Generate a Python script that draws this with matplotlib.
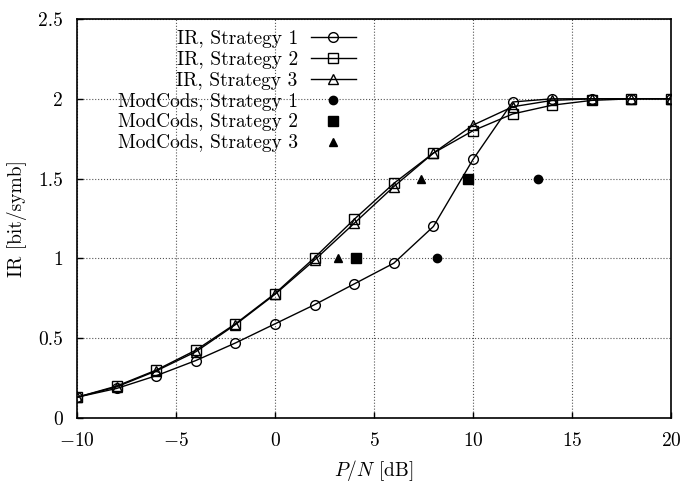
import matplotlib
matplotlib.use('Agg')
import matplotlib.pyplot as plt
from matplotlib.ticker import FuncFormatter

plt.rcParams['font.family'] = 'serif'
plt.rcParams['font.serif'] = ['cmr10']
plt.rcParams['mathtext.fontset'] = 'cm'
plt.rcParams['axes.formatter.use_mathtext'] = True
plt.rcParams['font.size'] = 14

# IR curves
snr = [-10, -8, -6, -4, -2, 0, 2, 4, 6, 8, 10, 12, 14, 16, 18, 20]
ir_s1 = [0.13, 0.185, 0.265, 0.36, 0.47, 0.59, 0.71, 0.84, 0.97, 1.20, 1.62, 1.98, 2.0, 2.0, 2.0, 2.0]
ir_s2 = [0.13, 0.20, 0.30, 0.425, 0.59, 0.78, 1.005, 1.245, 1.47, 1.66, 1.80, 1.905, 1.96, 1.99, 2.0, 2.0]
ir_s3 = [0.13, 0.195, 0.295, 0.415, 0.585, 0.775, 0.99, 1.22, 1.45, 1.66, 1.835, 1.95, 1.99, 2.0, 2.0, 2.0]

# ModCod points
mc1_x = [8.2, 13.3]
mc1_y = [1.0, 1.5]
mc2_x = [4.1, 9.75]
mc2_y = [1.0, 1.5]
mc3_x = [3.2, 7.35]
mc3_y = [1.0, 1.5]

fig = plt.figure(figsize=(6.92, 4.82), dpi=100)
ax = fig.add_axes([0.1113, 0.1328, 0.8584, 0.8278])

ax.plot(snr, ir_s1, color='black', lw=1.0, marker='o', ms=7, mfc='none', mec='black', mew=1.0,
        label='IR, Strategy 1')
ax.plot(snr, ir_s2, color='black', lw=1.0, marker='s', ms=7.5, mfc='none', mec='black', mew=1.0,
        label='IR, Strategy 2')
ax.plot(snr, ir_s3, color='black', lw=1.0, marker='^', ms=7, mfc='none', mec='black', mew=1.0,
        label='IR, Strategy 3')
ax.plot(mc1_x, mc1_y, ls='none', marker='o', ms=6, color='black', label='ModCods, Strategy 1')
ax.plot(mc2_x, mc2_y, ls='none', marker='s', ms=6.5, color='black', label='ModCods, Strategy 2')
ax.plot(mc3_x, mc3_y, ls='none', marker='^', ms=6, color='black', label='ModCods, Strategy 3')

ax.set_xlim(-10, 20)
ax.set_ylim(0, 2.5)
ax.set_xticks([-10, -5, 0, 5, 10, 15, 20])
ax.set_yticks([0, 0.5, 1, 1.5, 2, 2.5])
ax.yaxis.set_major_formatter(FuncFormatter(lambda v, p: '%g' % v))
ax.tick_params(direction='in', length=4, width=1, pad=10)
ax.grid(True, ls=':', color='#555555', lw=0.8)
for s in ax.spines.values():
    s.set_linewidth(1.2)

ax.set_xlabel('$P/N$ [dB]', labelpad=6)
ax.set_ylabel('IR [bit/symb]', labelpad=8)

leg = ax.legend(loc='upper right', bbox_to_anchor=(0.469, 0.973), markerfirst=False, frameon=False,
                handlelength=2.3, handletextpad=0.67, labelspacing=0.15, borderaxespad=0.0,
                borderpad=0.0)

fig.savefig('out.png', dpi=100)
